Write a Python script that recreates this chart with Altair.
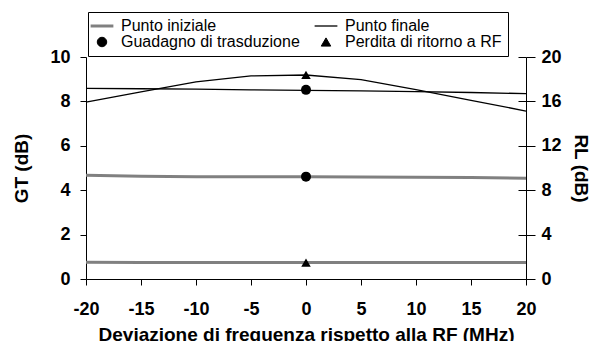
import altair as alt
import pandas as pd

# ---- data ----
freq = [-20, -15, -10, -5, 0, 5, 10, 15, 20]
gt_iniziale = [4.67, 4.63, 4.61, 4.61, 4.61, 4.60, 4.58, 4.57, 4.54]
gt_finale = [8.59, 8.57, 8.55, 8.52, 8.50, 8.47, 8.44, 8.40, 8.35]
rl_iniziale = [1.50, 1.49, 1.49, 1.48, 1.48, 1.48, 1.48, 1.48, 1.48]
rl_finale = [15.94, 16.85, 17.75, 18.30, 18.38, 17.96, 17.06, 16.10, 15.13]

marker_freq = [0, 0]
gt_marker = [4.61, 8.52]
rl_marker = [1.48, 18.38]

series = ["Punto iniziale", "Punto finale",
          "Guadagno di trasduzione", "Perdita di ritorno a RF"]
x_ticks = [-20, -15, -10, -5, 0, 5, 10, 15, 20]
gt_ticks = [0, 2, 4, 6, 8, 10]
rl_ticks = [0, 4, 8, 12, 16, 20]

# ---- tables ----
gt_lines = pd.DataFrame({
    "freq": freq + freq,
    "val": gt_iniziale + gt_finale,
    "serie": [series[0]] * len(freq) + [series[1]] * len(freq),
})
rl_lines = pd.DataFrame({
    "freq": freq + freq,
    "val": rl_iniziale + rl_finale,
    "serie": [series[0]] * len(freq) + [series[1]] * len(freq),
})
gt_pts = pd.DataFrame({"freq": marker_freq, "val": gt_marker, "serie": [series[2]] * 2})
rl_pts = pd.DataFrame({"freq": marker_freq, "val": rl_marker, "serie": [series[3]] * 2})

FONT = "Liberation Sans"
NBSP = "\u00a0" * 16
LINE_SYMBOL = "M-2.4,0H2.4"

leg = alt.Legend(
    title=None, orient="none", legendX=2, legendY=-45, columns=2, direction="horizontal",
    strokeColor="black", padding=6, cornerRadius=0,
    labelFont=FONT, labelFontSize=16, labelColor="black", labelOffset=11,
    columnPadding=12, rowPadding=0, labelLimit=400, symbolSize=90,
    labelExpr=f"datum.label == '{series[3]}' ? datum.label + '{NBSP}' : datum.label",
)

color_scale = alt.Scale(domain=series, range=["#808080", "#000000", "#000000", "#000000"])
width_scale = alt.Scale(type="ordinal", domain=series, range=[3, 1.3, 1, 1])
shape_scale = alt.Scale(domain=series, range=[LINE_SYMBOL, LINE_SYMBOL, "circle", "triangle-up"])

x_enc = alt.X(
    "freq:Q",
    scale=alt.Scale(domain=[-20, 20], nice=False),
    axis=alt.Axis(
        values=x_ticks, title="Deviazione di frequenza rispetto alla RF (MHz)",
        labelExpr="toString(datum.value)",
        grid=False, tickSize=6, labelPadding=15.5, titlePadding=7,
        labelFont=FONT, labelFontSize=18, labelFontWeight="bold",
        titleFont=FONT, titleFontSize=19, titleFontWeight="bold",
        domainColor="black", tickColor="black", labelColor="black", titleColor="black",
        labelFlush=False,
    ),
)

gt_axis = alt.Axis(
    orient="left", values=gt_ticks, title="GT (dB)", grid=False, tickSize=6,
    labelPadding=10, titlePadding=18,
    labelFont=FONT, labelFontSize=18, labelFontWeight="bold",
    titleFont=FONT, titleFontSize=19, titleFontWeight="bold",
    domainColor="black", tickColor="black", labelColor="black", titleColor="black",
)
rl_axis = alt.Axis(
    orient="right", values=rl_ticks, title="RL (dB)", grid=False, tickSize=9,
    labelPadding=6, titlePadding=9,
    labelFont=FONT, labelFontSize=18, labelFontWeight="bold",
    titleFont=FONT, titleFontSize=19, titleFontWeight="bold",
    domainColor="black", tickColor="black", labelColor="black", titleColor="black",
)
rl_inner_axis = alt.Axis(
    orient="right", values=rl_ticks, title=None, grid=False, tickSize=8, offset=-8,
    labels=False, domain=False, tickColor="black",
)

gt_scale = alt.Scale(domain=[0, 10], nice=False)
rl_scale = alt.Scale(domain=[0, 20], nice=False)


def line_layer(df, scale, axis):
    return alt.Chart(df).mark_line().encode(
        x=x_enc,
        y=alt.Y("val:Q", scale=scale, axis=axis),
        stroke=alt.Stroke("serie:N", scale=color_scale, legend=leg),
        strokeWidth=alt.StrokeWidth("serie:N", scale=width_scale, legend=leg),
    )


def point_layer(df, scale, axis, size):
    return alt.Chart(df).mark_point(filled=True, opacity=1, size=size).encode(
        x=x_enc,
        y=alt.Y("val:Q", scale=scale, axis=axis),
        fill=alt.Fill("serie:N", scale=color_scale, legend=leg),
        shape=alt.Shape("serie:N", scale=shape_scale, legend=leg),
    )


chart = alt.layer(
    line_layer(gt_lines, gt_scale, gt_axis),
    point_layer(gt_pts, gt_scale, None, 100),
    line_layer(rl_lines, rl_scale, rl_axis),
    point_layer(rl_pts, rl_scale, rl_inner_axis, 90),
).resolve_scale(y="independent").properties(
    width=440, height=222,
    padding={"left": 78, "top": 49, "right": 63, "bottom": 70},
    autosize=alt.AutoSizeParams(type="none"),
).configure_view(stroke=None)

chart.save("out.html", embed_options={"renderer": "svg", "actions": False})
